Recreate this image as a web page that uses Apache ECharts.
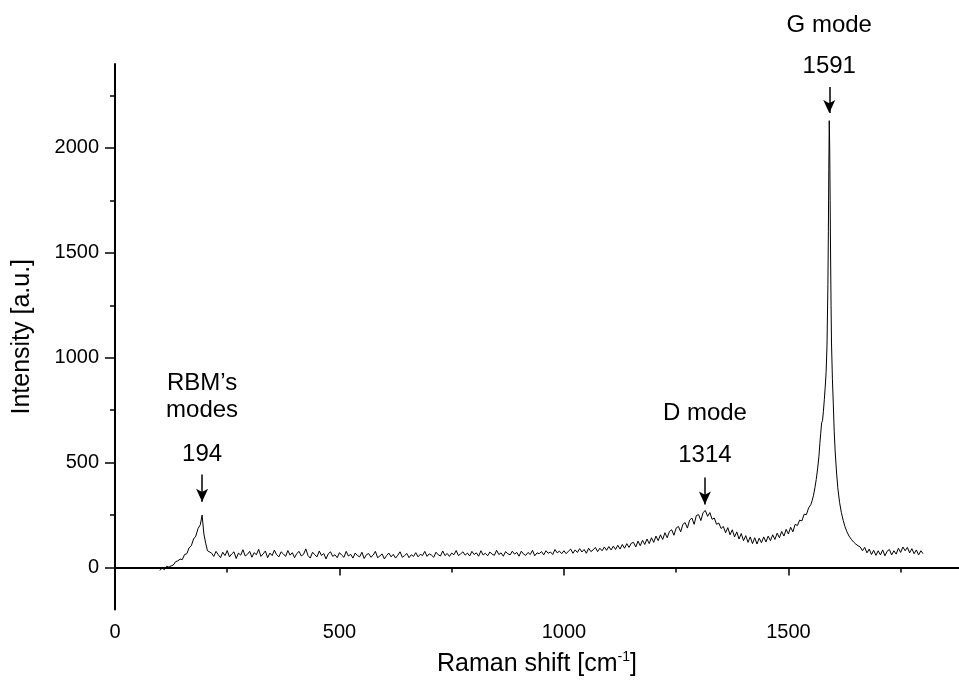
<!DOCTYPE html>
<html>
<head>
<meta charset="utf-8">
<title>Raman spectrum</title>
<script src="https://cdn.jsdelivr.net/npm/echarts@6/dist/echarts.min.js"></script>
<style>
  html, body { margin: 0; padding: 0; background: #fff; }
  #main { width: 959px; height: 682px; }
</style>
</head>
<body>
<div id="main"></div>
<script>
// spectrum, [shift cm-1, intensity a.u.]
var rbmRegion = [
  [100,-14],[105,-2],[110,-10],[115,6],[120,2],[125,8],[130,12],[135,28],[140,32],[145,40],
  [150,38],[155,62],[160,66],[165,94],[170,104],[175,136],[180,150],[185,186],[190,204],
  [194,250],[198,160],[202,116],[206,80],[210,76]
];
var flatRegion = [
  [215,69],[220,53],[225,77],[230,61],[235,47],[240,73],[245,57],[250,81],[255,51],[260,65],
  [265,75],[270,43],[275,69],[280,59],[285,85],[290,55],[295,63],[300,77],[305,49],[310,71],
  [315,61],[320,87],[325,53],[330,65],[335,79],[340,47],[345,69],[350,57],[355,83],[360,61],
  [365,51],[370,75],[375,65],[380,53],[385,81],[390,59],[395,71],[400,47],[405,67],[410,77],
  [415,55],[420,63],[425,89],[430,57],[435,45],[440,73],[445,61],[450,51],[455,79],[460,57],
  [465,67],[470,41],[475,65],[480,75],[485,53],[490,61],[495,47],[500,71],[505,59],[510,49],
  [515,77],[520,55],[525,63],[530,45],[535,69],[540,57],[545,51],[550,73],[555,43],[560,61],
  [565,67],[570,49],[575,59],[580,77],[585,47],[590,55],[595,65],[600,41],[605,57],[610,69],
  [615,51],[620,63],[625,45],[630,59],[635,75],[640,49],[645,57],[650,67],[655,47],[660,61],
  [665,53],[670,71],[675,51],[680,63],[685,57],[690,77],[695,53],[700,65],[705,59],[710,49],
  [715,73],[720,61],[725,55],[730,79],[735,57],[740,67],[745,53],[750,69],[755,61],[760,81],
  [765,57],[770,65],[775,75],[780,59],[785,69],[790,55],[795,77],[800,62],[805,70],[810,54],
  [815,80],[820,60],[825,68],[830,56],[835,74],[840,64],[845,58],[850,82],[855,62],[860,70],
  [865,54],[870,76],[875,66],[880,60],[885,78],[890,64],[895,72],[900,54],[905,78],[910,64],
  [915,58],[920,72],[925,62],[930,82],[935,56],[940,70],[945,66],[950,76],[955,60],[960,80],
  [965,68],[970,74],[975,62],[980,86],[985,70],[990,78],[995,66]
];
var dRegion = [
  [1000,80],[1005,66],[1010,78],[1015,88],[1020,68],[1025,84],[1030,72],[1035,90],[1040,74],
  [1045,86],[1050,68],[1055,92],[1060,76],[1065,84],[1070,96],[1075,76],[1080,92],[1085,80],
  [1090,98],[1095,82],[1100,100],[1105,84],[1110,102],[1115,86],[1120,106],[1125,88],
  [1130,110],[1135,92],[1140,114],[1145,96],[1150,116],[1155,120],[1160,98],[1165,126],
  [1170,104],[1175,130],[1180,110],[1185,136],[1190,114],[1195,142],[1200,120],[1205,150],
  [1210,128],[1215,156],[1220,134],[1225,166],[1230,142],[1235,172],[1240,180],[1245,154],
  [1250,188],[1255,196],[1260,170],[1265,206],[1270,214],[1275,188],[1280,226],[1285,236],
  [1290,206],[1295,248],[1300,252],[1305,224],[1310,262],[1315,272],[1320,244],[1325,262],
  [1330,230],[1335,236],[1340,206],[1345,212],[1350,186],[1355,196],[1360,166],[1365,190],
  [1370,156],[1375,180],[1380,146],[1385,170],[1390,136],[1395,162],[1400,128],[1405,152],
  [1410,120],[1415,146],[1420,114],[1425,142],[1430,112],[1435,140],[1440,118],[1445,146],
  [1450,122],[1455,150],[1460,128],[1465,156],[1470,134],[1475,164],[1480,142],[1485,172],
  [1490,150],[1495,182],[1500,160],[1505,192],[1510,170],[1515,206],[1520,200],[1525,226],
  [1530,222],[1535,254],[1540,252],[1545,284]
];
var gRegion = [
  [1550,300],[1553,320],[1556,345],[1559,380],[1562,420],[1565,470],[1568,530],[1570,590],
  [1572,640],[1574,690],[1576,700],[1578,745],[1580,800],[1582,860],[1584,930],[1586,1060],
  [1588,1350],[1589,1600],[1590,1900],[1591,2130],[1592,2000],[1593,1750],[1594,1480],
  [1595,1250],[1596,1070],[1598,900],[1600,780],[1602,650],[1604,560],[1607,460],[1610,380],
  [1614,310],[1618,262],[1622,225],[1626,195],[1630,172],[1635,150],[1640,135],[1645,122],
  [1650,112],[1655,104],[1660,98],[1665,80],[1670,96],[1675,70],[1680,88],[1685,62],
  [1690,82],[1695,58],[1700,80],[1705,60],[1710,84],[1715,56],[1720,78],[1725,86],[1730,60],
  [1735,80],[1740,64],[1745,92],[1750,72],[1755,98],[1760,80],[1765,96],[1770,70],[1775,90],
  [1780,66],[1785,84],[1790,60],[1795,80],[1800,66]
];
var spectrum = rbmRegion.concat(flatRegion, dRegion, gRegion);

var xMajor = [0, 500, 1000, 1500];
var xMinor = [250, 750, 1250, 1750];
var yMajor = [0, 500, 1000, 1500, 2000];
var yMinor = [250, 750, 1250, 1750, 2250];

// peak annotations
var peakShift = [194, 1314, 1591];
var peakName = ['RBM\u2019s\nmodes', 'D mode', 'G mode'];
var arrowFrom = [443, 429, 2290];
var arrowTo = [314, 300, 2167];
var numberLevel = [538, 533, 2390];
var nameOffset = [-58, -42, -41];

var font = 'Liberation Sans, Arial, sans-serif';

var arrows = peakShift.map(function (x, i) {
  return [{ coord: [x, arrowFrom[i]] }, { coord: [x, arrowTo[i]] }];
});
var labels = [];
peakShift.forEach(function (x, i) {
  labels.push({ name: String(x), coord: [x, numberLevel[i]] });
  labels.push({
    name: peakName[i],
    coord: [x, numberLevel[i]],
    label: { offset: [0, nameOffset[i]], lineHeight: 27 }
  });
});

function plain(v) { return String(v); }

var myChart = echarts.init(document.getElementById('main'));

var baseAxis = {
  axisLine: { show: true, lineStyle: { color: '#000', width: 2 } },
  splitLine: { show: false }
};

var option = {
  animation: false,
  backgroundColor: '#fff',
  textStyle: { fontFamily: font },
  grid: { left: 115, right: 0, top: 64, bottom: 72 },
  xAxis: [
    Object.assign({}, baseAxis, {
      type: 'value', min: 0, max: 1880,
      axisTick: { show: true, length: 8, lineStyle: { color: '#000', width: 1.5 }, customValues: xMajor },
      axisLabel: { color: '#000', fontSize: 20, margin: 13, fontFamily: font, formatter: plain, customValues: xMajor },
      name: '{a|Raman shift [cm}{s|-1}{a|]}',
      nameLocation: 'middle',
      nameGap: 41,
      nameTextStyle: {
        rich: {
          a: { fontSize: 25, color: '#000', fontFamily: font, lineHeight: 28 },
          s: { fontSize: 14, color: '#000', fontFamily: font, verticalAlign: 'top', lineHeight: 28 }
        }
      }
    }),
    {
      type: 'value', min: 0, max: 1880, position: 'bottom',
      axisLine: { show: false },
      splitLine: { show: false },
      axisTick: { show: true, length: 5, lineStyle: { color: '#000', width: 1.5 }, customValues: xMinor },
      axisLabel: { show: false }
    }
  ],
  yAxis: [
    Object.assign({}, baseAxis, {
      type: 'value', min: -200, max: 2400,
      axisTick: { show: true, length: 10, lineStyle: { color: '#000', width: 1.5 }, customValues: yMajor },
      axisLabel: { color: '#000', fontSize: 20, margin: 16, fontFamily: font, formatter: plain, customValues: yMajor },
      name: 'Intensity [a.u.]',
      nameLocation: 'middle',
      nameGap: 80,
      nameTextStyle: { color: '#000', fontSize: 25, fontFamily: font }
    }),
    {
      type: 'value', min: -200, max: 2400, position: 'left',
      axisLine: { show: false },
      splitLine: { show: false },
      axisTick: { show: true, length: 5, lineStyle: { color: '#000', width: 1.5 }, customValues: yMinor },
      axisLabel: { show: false }
    }
  ],
  series: [
    {
      type: 'line',
      data: spectrum,
      showSymbol: false,
      lineStyle: { color: '#000', width: 1 },
      markLine: {
        silent: true,
        symbol: ['none', 'arrow'],
        symbolSize: [9, 13],
        lineStyle: { color: '#000', width: 1.5, type: 'solid' },
        label: { show: false },
        data: arrows
      },
      markPoint: {
        silent: true,
        symbol: 'circle',
        symbolSize: 0,
        label: {
          show: true, position: 'inside', color: '#000',
          fontSize: 24, fontFamily: font, formatter: '{b}'
        },
        data: labels
      }
    }
  ]
};

myChart.setOption(option);
</script>
</body>
</html>
